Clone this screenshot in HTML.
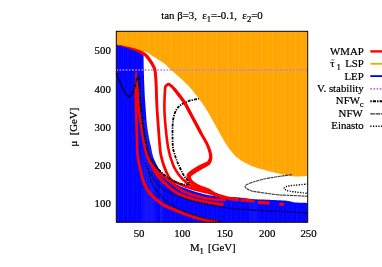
<!DOCTYPE html>
<html><head><meta charset="utf-8"><style>
html,body{margin:0;padding:0;background:#fff;}
body{width:382px;height:267px;overflow:hidden;position:relative;font-family:"Liberation Serif",serif;}
svg{position:absolute;left:0;top:0;}
text{font-family:"Liberation Serif",serif;fill:#000;}
</style></head><body>
<svg width="382" height="267" viewBox="0 0 382 267">
<defs>
<pattern id="pb" width="4.7" height="10" patternUnits="userSpaceOnUse"><rect x="0.6" y="0" width="0.7" height="10" fill="#fff" fill-opacity="0.10"/><rect x="2.9" y="0" width="0.5" height="10" fill="#fff" fill-opacity="0.06"/></pattern>
<pattern id="po" width="11.3" height="10" patternUnits="userSpaceOnUse"><rect x="1" y="0" width="1.6" height="10" fill="#fff" fill-opacity="0.09"/><rect x="6.2" y="0" width="0.9" height="10" fill="#fff" fill-opacity="0.07"/><rect x="8.6" y="0" width="1.2" height="10" fill="#fff" fill-opacity="0.05"/></pattern>
<clipPath id="cb"><path d="M116.30,222.30 L116.30,45.00 C117.02,44.85 118.80,45.18 120.60,45.60 C122.40,46.02 124.92,46.60 127.10,47.20 C129.28,47.80 131.52,48.43 133.70,49.20 C135.88,49.97 138.57,51.08 140.20,51.80 C141.83,52.52 142.95,53.22 143.50,53.50 C143.63,56.25 143.65,63.92 143.80,70.00 C143.95,76.08 144.23,84.17 144.50,90.00 C144.77,95.83 144.98,99.17 145.40,105.00 C145.82,110.83 146.33,119.17 147.00,125.00 C147.67,130.83 148.73,136.33 149.40,140.00 C150.07,143.67 150.47,144.50 151.00,147.00 C151.53,149.50 151.93,152.62 152.60,155.00 C153.27,157.38 154.02,159.13 155.00,161.30 C155.98,163.47 157.18,165.90 158.50,168.00 C159.82,170.10 161.07,171.93 162.90,173.90 C164.73,175.87 167.15,177.98 169.50,179.80 C171.85,181.62 173.82,183.17 177.00,184.80 C180.18,186.43 184.10,188.03 188.60,189.60 C193.10,191.17 198.77,193.05 204.00,194.20 C209.23,195.35 214.72,195.98 220.00,196.50 C225.28,197.02 230.45,196.88 235.70,197.30 C240.95,197.72 246.28,198.60 251.50,199.00 C256.72,199.40 261.17,199.42 267.00,199.70 C272.83,199.98 281.67,200.22 286.50,200.70 C291.33,201.18 292.47,202.22 296.00,202.60 C299.53,202.98 305.75,202.93 307.70,203.00 L307.70,222.30 Z"/></clipPath>
<clipPath id="c"><rect x="116.3" y="31.3" width="191.39999999999998" height="191.0"/></clipPath></defs>
<rect x="0" y="0" width="382" height="267" fill="#fff"/>
<g clip-path="url(#c)">
<path d="M116.30,31.30 L116.30,45.00 L116.30,45.00 C117.02,44.85 118.80,45.18 120.60,45.60 C122.40,46.02 124.92,46.60 127.10,47.20 C129.28,47.80 131.52,48.43 133.70,49.20 C135.88,49.97 138.57,51.08 140.20,51.80 C141.83,52.52 142.95,53.22 143.50,53.50 C143.83,51.97 143.85,51.07 145.50,51.80 C147.15,52.53 151.15,55.03 153.40,56.40 C155.65,57.77 157.07,58.73 159.00,60.00 C160.93,61.27 163.17,62.50 165.00,64.00 C166.83,65.50 168.03,67.17 170.00,69.00 C171.97,70.83 173.70,72.17 176.80,75.00 C179.90,77.83 184.92,82.07 188.60,86.00 C192.28,89.93 195.75,94.40 198.90,98.60 C202.05,102.80 205.15,107.47 207.50,111.20 C209.85,114.93 211.25,117.87 213.00,121.00 C214.75,124.13 216.33,127.00 218.00,130.00 C219.67,133.00 221.33,136.17 223.00,139.00 C224.67,141.83 226.17,144.42 228.00,147.00 C229.83,149.58 231.83,152.25 234.00,154.50 C236.17,156.75 238.33,158.70 241.00,160.50 C243.67,162.30 246.83,163.92 250.00,165.30 C253.17,166.68 256.33,167.68 260.00,168.80 C263.67,169.92 267.58,170.93 272.00,172.00 C276.42,173.07 282.25,174.45 286.50,175.20 C290.75,175.95 293.97,176.40 297.50,176.50 C301.03,176.60 306.00,175.92 307.70,175.80 L307.70,31.30 Z" fill="#ffa500"/>
<path d="M116.30,31.30 L116.30,45.00 L116.30,45.00 C117.02,44.85 118.80,45.18 120.60,45.60 C122.40,46.02 124.92,46.60 127.10,47.20 C129.28,47.80 131.52,48.43 133.70,49.20 C135.88,49.97 138.57,51.08 140.20,51.80 C141.83,52.52 142.95,53.22 143.50,53.50 C143.83,51.97 143.85,51.07 145.50,51.80 C147.15,52.53 151.15,55.03 153.40,56.40 C155.65,57.77 157.07,58.73 159.00,60.00 C160.93,61.27 163.17,62.50 165.00,64.00 C166.83,65.50 168.03,67.17 170.00,69.00 C171.97,70.83 173.70,72.17 176.80,75.00 C179.90,77.83 184.92,82.07 188.60,86.00 C192.28,89.93 195.75,94.40 198.90,98.60 C202.05,102.80 205.15,107.47 207.50,111.20 C209.85,114.93 211.25,117.87 213.00,121.00 C214.75,124.13 216.33,127.00 218.00,130.00 C219.67,133.00 221.33,136.17 223.00,139.00 C224.67,141.83 226.17,144.42 228.00,147.00 C229.83,149.58 231.83,152.25 234.00,154.50 C236.17,156.75 238.33,158.70 241.00,160.50 C243.67,162.30 246.83,163.92 250.00,165.30 C253.17,166.68 256.33,167.68 260.00,168.80 C263.67,169.92 267.58,170.93 272.00,172.00 C276.42,173.07 282.25,174.45 286.50,175.20 C290.75,175.95 293.97,176.40 297.50,176.50 C301.03,176.60 306.00,175.92 307.70,175.80 L307.70,31.30 Z" fill="url(#po)"/>
<path d="M116.30,222.30 L116.30,45.00 C117.02,44.85 118.80,45.18 120.60,45.60 C122.40,46.02 124.92,46.60 127.10,47.20 C129.28,47.80 131.52,48.43 133.70,49.20 C135.88,49.97 138.57,51.08 140.20,51.80 C141.83,52.52 142.95,53.22 143.50,53.50 C143.63,56.25 143.65,63.92 143.80,70.00 C143.95,76.08 144.23,84.17 144.50,90.00 C144.77,95.83 144.98,99.17 145.40,105.00 C145.82,110.83 146.33,119.17 147.00,125.00 C147.67,130.83 148.73,136.33 149.40,140.00 C150.07,143.67 150.47,144.50 151.00,147.00 C151.53,149.50 151.93,152.62 152.60,155.00 C153.27,157.38 154.02,159.13 155.00,161.30 C155.98,163.47 157.18,165.90 158.50,168.00 C159.82,170.10 161.07,171.93 162.90,173.90 C164.73,175.87 167.15,177.98 169.50,179.80 C171.85,181.62 173.82,183.17 177.00,184.80 C180.18,186.43 184.10,188.03 188.60,189.60 C193.10,191.17 198.77,193.05 204.00,194.20 C209.23,195.35 214.72,195.98 220.00,196.50 C225.28,197.02 230.45,196.88 235.70,197.30 C240.95,197.72 246.28,198.60 251.50,199.00 C256.72,199.40 261.17,199.42 267.00,199.70 C272.83,199.98 281.67,200.22 286.50,200.70 C291.33,201.18 292.47,202.22 296.00,202.60 C299.53,202.98 305.75,202.93 307.70,203.00 L307.70,222.30 Z" fill="#0000ff"/>
<path d="M116.30,222.30 L116.30,45.00 C117.02,44.85 118.80,45.18 120.60,45.60 C122.40,46.02 124.92,46.60 127.10,47.20 C129.28,47.80 131.52,48.43 133.70,49.20 C135.88,49.97 138.57,51.08 140.20,51.80 C141.83,52.52 142.95,53.22 143.50,53.50 C143.63,56.25 143.65,63.92 143.80,70.00 C143.95,76.08 144.23,84.17 144.50,90.00 C144.77,95.83 144.98,99.17 145.40,105.00 C145.82,110.83 146.33,119.17 147.00,125.00 C147.67,130.83 148.73,136.33 149.40,140.00 C150.07,143.67 150.47,144.50 151.00,147.00 C151.53,149.50 151.93,152.62 152.60,155.00 C153.27,157.38 154.02,159.13 155.00,161.30 C155.98,163.47 157.18,165.90 158.50,168.00 C159.82,170.10 161.07,171.93 162.90,173.90 C164.73,175.87 167.15,177.98 169.50,179.80 C171.85,181.62 173.82,183.17 177.00,184.80 C180.18,186.43 184.10,188.03 188.60,189.60 C193.10,191.17 198.77,193.05 204.00,194.20 C209.23,195.35 214.72,195.98 220.00,196.50 C225.28,197.02 230.45,196.88 235.70,197.30 C240.95,197.72 246.28,198.60 251.50,199.00 C256.72,199.40 261.17,199.42 267.00,199.70 C272.83,199.98 281.67,200.22 286.50,200.70 C291.33,201.18 292.47,202.22 296.00,202.60 C299.53,202.98 305.75,202.93 307.70,203.00 L307.70,222.30 Z" fill="url(#pb)"/>
<g clip-path="url(#cb)"><rect x="142.5" y="120" width="12.5" height="110" fill="#fff" fill-opacity="0.06"/><rect x="160" y="150" width="3.5" height="80" fill="#fff" fill-opacity="0.05"/><rect x="249" y="190" width="9" height="40" fill="#fff" fill-opacity="0.04"/></g>
<path d="M292.00,174.60 C290.00,174.88 283.55,175.77 280.00,176.30 C276.45,176.83 273.37,177.35 270.70,177.80 C268.03,178.25 266.62,178.38 264.00,179.00 C261.38,179.62 257.08,180.90 255.00,181.50 C252.92,182.10 252.83,182.10 251.50,182.60 C250.17,183.10 248.08,183.85 247.00,184.50 C245.92,185.15 245.00,185.78 245.00,186.50 C245.00,187.22 245.92,188.05 247.00,188.80 C248.08,189.55 250.17,190.53 251.50,191.00 C252.83,191.47 252.42,191.20 255.00,191.60 C257.58,192.00 262.83,192.83 267.00,193.40 C271.17,193.97 276.75,194.70 280.00,195.00 C283.25,195.30 281.88,194.98 286.50,195.20 C291.12,195.42 304.17,196.12 307.70,196.30" fill="none" stroke="#404040" stroke-width="1.15" stroke-dasharray="3.2,0.5"/>
<path d="M307.70,184.00 C304.68,184.30 293.22,185.33 289.60,185.80 C285.98,186.27 286.93,186.37 286.00,186.80 C285.07,187.23 284.00,187.87 284.00,188.40 C284.00,188.93 285.07,189.53 286.00,190.00 C286.93,190.47 285.98,190.63 289.60,191.20 C293.22,191.77 304.68,193.03 307.70,193.40" fill="none" stroke="#000" stroke-width="1.35" stroke-dasharray="1.2,1.4"/>
<line x1="116.3" y1="70" x2="307.7" y2="70" stroke="#c07fe8" stroke-width="1.7" stroke-dasharray="1.7,1.45"/>
<path d="M135.80,70.00 L135.69,70.98 L135.58,72.22 L135.46,73.70 L135.33,75.36 L135.20,77.15 L135.08,79.05 L134.95,80.99 L134.82,82.95 L134.70,84.87 L134.59,86.71 L134.49,88.44 L134.40,90.00 L134.39,91.37 L134.39,92.57 L134.39,93.66 L134.40,94.66 L134.42,95.63 L134.44,96.61 L134.46,97.63 L134.49,98.75 L134.53,100.01 L134.57,101.44 L134.61,103.11 L134.65,105.04 L134.72,107.32 L134.80,109.94 L134.88,112.85 L134.97,115.96 L135.07,119.22 L135.16,122.54 L135.26,125.86 L135.36,129.11 L135.45,132.23 L135.54,135.13 L135.63,137.76 L135.70,140.04 L135.76,141.99 L135.80,143.70 L135.83,145.21 L135.86,146.56 L135.88,147.76 L135.90,148.87 L135.93,149.91 L135.97,150.90 L136.02,151.90 L136.09,152.92 L136.19,153.99 L136.31,155.15 L136.45,156.35 L136.60,157.53 L136.77,158.69 L136.96,159.84 L137.16,160.98 L137.38,162.11 L137.60,163.23 L137.84,164.35 L138.08,165.48 L138.33,166.61 L138.58,167.75 L138.83,168.91 L139.09,170.08 L139.34,171.29 L139.60,172.51 L139.86,173.75 L140.13,175.01 L140.41,176.26 L140.72,177.52 L141.04,178.77 L141.38,180.00 L141.76,181.22 L142.17,182.41 L142.61,183.57 L143.08,184.68 L143.56,185.76 L144.07,186.83 L144.59,187.87 L145.14,188.90 L145.72,189.91 L146.32,190.90 L146.95,191.88 L147.61,192.84 L148.31,193.79 L149.03,194.72 L149.79,195.65 L150.62,196.57 L151.50,197.49 L152.44,198.40 L153.41,199.29 L154.41,200.16 L155.42,201.01 L156.43,201.83 L157.43,202.61 L158.40,203.36 L159.35,204.06 L160.24,204.71 L161.08,205.31 L161.88,205.86 L162.64,206.34 L163.36,206.76 L164.05,207.14 L164.71,207.47 L165.36,207.78 L166.00,208.06 L166.63,208.32 L167.27,208.59 L167.93,208.86 L168.62,209.14 L169.36,209.47 L170.14,209.81 L170.94,210.16 L171.74,210.50 L172.56,210.84 L173.40,211.19 L174.26,211.54 L175.15,211.90 L176.07,212.26 L177.03,212.63 L178.02,213.01 L179.06,213.40 L180.14,213.80 L181.28,214.22 L182.48,214.67 L183.74,215.14 L185.05,215.62 L186.39,216.11 L187.76,216.61 L189.15,217.10 L190.55,217.58 L191.95,218.06 L193.34,218.51 L194.71,218.94 L196.06,219.34 L197.41,219.72 L198.81,220.08 L200.23,220.44 L201.66,220.78 L203.09,221.10 L204.50,221.41 L205.87,221.71 L207.20,221.98 L208.46,222.24 L209.64,222.47 L210.72,222.68 L211.71,222.87 L212.60,223.04 L213.43,223.17 L214.18,223.27 L214.87,223.36 L215.49,223.42 L216.05,223.46 L216.55,223.50 L217.00,223.52 L217.39,223.54 L217.72,223.55 L218.00,223.57 L218.26,223.59 L218.54,220.41 L218.24,220.38 L217.89,220.36 L217.54,220.34 L217.16,220.32 L216.74,220.30 L216.29,220.27 L215.78,220.23 L215.22,220.18 L214.60,220.10 L213.91,220.00 L213.14,219.88 L212.29,219.73 L211.33,219.54 L210.26,219.33 L209.09,219.10 L207.84,218.85 L206.53,218.58 L205.18,218.29 L203.79,217.98 L202.39,217.66 L200.99,217.33 L199.60,216.98 L198.25,216.63 L196.94,216.26 L195.64,215.88 L194.31,215.46 L192.96,215.02 L191.58,214.56 L190.21,214.08 L188.84,213.59 L187.48,213.10 L186.15,212.62 L184.85,212.14 L183.60,211.67 L182.40,211.22 L181.26,210.80 L180.18,210.40 L179.16,210.01 L178.18,209.64 L177.24,209.28 L176.33,208.92 L175.46,208.57 L174.61,208.23 L173.79,207.89 L172.99,207.55 L172.20,207.22 L171.42,206.88 L170.64,206.53 L169.88,206.20 L169.16,205.90 L168.49,205.63 L167.86,205.37 L167.26,205.12 L166.68,204.86 L166.11,204.59 L165.53,204.31 L164.94,203.98 L164.31,203.61 L163.65,203.19 L162.92,202.69 L162.11,202.11 L161.24,201.48 L160.33,200.80 L159.39,200.08 L158.43,199.33 L157.46,198.54 L156.49,197.73 L155.55,196.91 L154.64,196.07 L153.77,195.23 L152.96,194.39 L152.21,193.55 L151.50,192.72 L150.82,191.87 L150.17,191.00 L149.55,190.12 L148.95,189.23 L148.38,188.32 L147.83,187.39 L147.30,186.44 L146.80,185.47 L146.31,184.48 L145.84,183.46 L145.39,182.43 L144.97,181.38 L144.58,180.28 L144.21,179.15 L143.87,177.99 L143.54,176.80 L143.24,175.59 L142.94,174.36 L142.66,173.14 L142.38,171.91 L142.11,170.69 L141.84,169.48 L141.57,168.29 L141.29,167.13 L141.02,166.00 L140.76,164.88 L140.51,163.77 L140.26,162.67 L140.02,161.57 L139.80,160.47 L139.59,159.37 L139.39,158.27 L139.21,157.15 L139.04,156.01 L138.89,154.85 L138.78,153.74 L138.68,152.71 L138.62,151.74 L138.57,150.78 L138.53,149.82 L138.50,148.81 L138.48,147.71 L138.46,146.51 L138.43,145.16 L138.40,143.64 L138.36,141.92 L138.30,139.96 L138.23,137.68 L138.16,135.05 L138.08,132.15 L137.99,129.04 L137.90,125.78 L137.81,122.46 L137.72,119.14 L137.64,115.89 L137.55,112.78 L137.48,109.87 L137.41,107.24 L137.35,104.96 L137.28,103.02 L137.21,101.36 L137.15,99.91 L137.09,98.66 L137.04,97.54 L136.99,96.52 L136.94,95.55 L136.90,94.60 L136.87,93.61 L136.84,92.54 L136.82,91.36 L136.80,90.00 L136.72,88.45 L136.66,86.74 L136.60,84.90 L136.56,82.98 L136.51,81.03 L136.47,79.08 L136.44,77.18 L136.40,75.38 L136.36,73.72 L136.31,72.24 L136.26,70.99 L136.20,70.00Z" fill="#ff0000"/>
<path d="M135.80,70.02 L135.79,71.00 L135.81,72.26 L135.84,73.75 L135.88,75.41 L135.94,77.22 L136.00,79.12 L136.07,81.07 L136.13,83.03 L136.19,84.95 L136.24,86.80 L136.28,88.52 L136.30,90.08 L136.37,91.48 L136.43,92.79 L136.47,94.03 L136.50,95.23 L136.52,96.39 L136.55,97.54 L136.58,98.70 L136.62,99.88 L136.67,101.09 L136.74,102.36 L136.84,103.71 L136.96,105.13 L137.12,106.66 L137.31,108.26 L137.52,109.93 L137.75,111.66 L137.99,113.41 L138.24,115.18 L138.49,116.95 L138.75,118.71 L139.00,120.42 L139.25,122.09 L139.49,123.68 L139.71,125.19 L139.92,126.61 L140.12,127.98 L140.31,129.29 L140.49,130.56 L140.67,131.80 L140.86,133.01 L141.05,134.21 L141.24,135.40 L141.44,136.59 L141.66,137.79 L141.88,139.01 L142.12,140.25 L142.37,141.52 L142.63,142.82 L142.89,144.13 L143.16,145.45 L143.44,146.77 L143.73,148.09 L144.03,149.39 L144.34,150.67 L144.66,151.92 L144.99,153.14 L145.32,154.31 L145.67,155.44 L146.03,156.51 L146.41,157.54 L146.80,158.53 L147.19,159.48 L147.60,160.39 L148.01,161.27 L148.42,162.13 L148.84,162.96 L149.25,163.78 L149.66,164.58 L150.06,165.38 L150.47,166.18 L150.88,167.00 L151.31,167.81 L151.75,168.63 L152.19,169.43 L152.63,170.23 L153.07,171.01 L153.50,171.76 L153.93,172.50 L154.35,173.20 L154.76,173.88 L155.16,174.51 L155.54,175.11 L155.90,175.66 L156.23,176.16 L156.55,176.62 L156.86,177.04 L157.16,177.43 L157.45,177.80 L157.75,178.16 L158.05,178.52 L158.36,178.87 L158.68,179.23 L159.02,179.61 L159.39,180.01 L159.79,180.45 L160.21,180.89 L160.64,181.34 L161.09,181.79 L161.54,182.25 L162.01,182.72 L162.49,183.18 L162.98,183.65 L163.47,184.11 L163.97,184.58 L164.48,185.05 L164.99,185.51 L165.51,185.98 L166.03,186.45 L166.56,186.92 L167.10,187.41 L167.66,187.89 L168.22,188.38 L168.79,188.86 L169.38,189.35 L169.97,189.83 L170.58,190.30 L171.20,190.77 L171.82,191.22 L172.42,191.64 L172.99,192.06 L173.55,192.46 L174.12,192.87 L174.70,193.28 L175.32,193.69 L175.97,194.09 L176.67,194.50 L177.42,194.92 L178.24,195.33 L179.14,195.76 L180.12,196.18 L181.19,196.62 L182.35,197.07 L183.60,197.53 L184.90,198.00 L186.26,198.47 L187.66,198.94 L189.09,199.40 L190.53,199.85 L191.96,200.28 L193.38,200.70 L194.77,201.09 L196.12,201.45 L197.46,201.79 L198.81,202.11 L200.18,202.40 L201.54,202.69 L202.90,202.95 L204.24,203.20 L205.57,203.44 L206.88,203.66 L208.16,203.88 L209.40,204.09 L210.60,204.29 L211.75,204.48 L212.90,204.67 L214.07,204.85 L215.23,205.02 L216.38,205.18 L217.50,205.33 L218.58,205.48 L219.60,205.61 L220.55,205.73 L221.42,205.83 L222.20,205.93 L222.86,206.01 L223.40,206.09 L223.80,203.11 L223.24,203.04 L222.57,202.95 L221.79,202.86 L220.92,202.75 L219.98,202.63 L218.96,202.50 L217.90,202.36 L216.79,202.21 L215.66,202.05 L214.52,201.88 L213.38,201.71 L212.25,201.52 L211.09,201.33 L209.89,201.13 L208.65,200.92 L207.39,200.71 L206.09,200.48 L204.78,200.25 L203.46,200.00 L202.13,199.74 L200.80,199.47 L199.48,199.18 L198.17,198.87 L196.88,198.55 L195.57,198.20 L194.21,197.81 L192.82,197.41 L191.41,196.98 L190.00,196.54 L188.60,196.09 L187.23,195.63 L185.90,195.17 L184.62,194.71 L183.42,194.27 L182.30,193.83 L181.28,193.42 L180.37,193.02 L179.56,192.64 L178.82,192.26 L178.15,191.90 L177.53,191.53 L176.94,191.16 L176.39,190.80 L175.85,190.42 L175.30,190.03 L174.75,189.63 L174.17,189.21 L173.58,188.78 L172.98,188.35 L172.41,187.92 L171.84,187.48 L171.27,187.02 L170.72,186.56 L170.17,186.10 L169.63,185.63 L169.09,185.16 L168.56,184.69 L168.04,184.22 L167.52,183.75 L167.01,183.29 L166.51,182.83 L166.01,182.38 L165.52,181.93 L165.04,181.47 L164.57,181.02 L164.11,180.57 L163.66,180.13 L163.22,179.69 L162.80,179.25 L162.39,178.82 L161.99,178.40 L161.61,177.99 L161.24,177.59 L160.91,177.22 L160.60,176.88 L160.32,176.55 L160.05,176.24 L159.79,175.92 L159.53,175.60 L159.27,175.25 L159.00,174.88 L158.71,174.46 L158.40,174.00 L158.06,173.49 L157.70,172.92 L157.32,172.30 L156.92,171.65 L156.51,170.97 L156.10,170.26 L155.67,169.52 L155.24,168.76 L154.81,167.99 L154.39,167.20 L153.96,166.41 L153.55,165.61 L153.13,164.82 L152.71,164.01 L152.29,163.22 L151.87,162.42 L151.45,161.62 L151.03,160.82 L150.62,160.01 L150.21,159.17 L149.82,158.32 L149.43,157.43 L149.05,156.52 L148.68,155.56 L148.33,154.56 L147.99,153.50 L147.65,152.38 L147.32,151.21 L146.99,150.00 L146.67,148.75 L146.37,147.48 L146.06,146.19 L145.77,144.89 L145.48,143.58 L145.21,142.29 L144.94,141.00 L144.68,139.75 L144.44,138.52 L144.21,137.33 L144.00,136.14 L143.80,134.97 L143.61,133.80 L143.43,132.61 L143.25,131.41 L143.06,130.18 L142.88,128.91 L142.69,127.60 L142.49,126.24 L142.29,124.81 L142.07,123.30 L141.84,121.71 L141.60,120.04 L141.35,118.33 L141.11,116.58 L140.86,114.82 L140.62,113.05 L140.39,111.31 L140.18,109.60 L139.98,107.94 L139.80,106.36 L139.64,104.87 L139.50,103.48 L139.39,102.17 L139.29,100.94 L139.22,99.75 L139.15,98.60 L139.10,97.46 L139.05,96.31 L139.00,95.14 L138.94,93.94 L138.88,92.67 L138.80,91.34 L138.70,89.92 L138.51,88.37 L138.30,86.65 L138.09,84.81 L137.86,82.90 L137.63,80.95 L137.40,79.01 L137.17,77.12 L136.95,75.33 L136.73,73.68 L136.54,72.21 L136.36,70.96 L136.20,69.98Z" fill="#ff0000"/>
<path d="M149.28,160.63 L149.39,160.89 L149.52,161.21 L149.68,161.58 L149.87,162.00 L150.07,162.45 L150.30,162.94 L150.54,163.44 L150.79,163.95 L151.06,164.46 L151.33,164.97 L151.61,165.47 L151.89,165.94 L152.18,166.39 L152.48,166.84 L152.79,167.29 L153.11,167.74 L153.44,168.19 L153.78,168.64 L154.12,169.09 L154.47,169.54 L154.83,169.99 L155.19,170.43 L155.56,170.88 L155.93,171.33 L156.33,171.76 L156.74,172.20 L157.17,172.64 L157.60,173.09 L158.04,173.54 L158.49,173.99 L158.93,174.43 L159.38,174.87 L159.83,175.30 L160.28,175.71 L160.73,176.11 L161.17,176.50 L161.62,176.86 L162.06,177.20 L162.50,177.51 L162.93,177.81 L163.35,178.09 L163.76,178.35 L164.17,178.62 L164.58,178.88 L164.98,179.15 L165.38,179.42 L165.79,179.71 L166.21,180.03 L166.64,180.37 L167.08,180.73 L167.52,181.10 L167.98,181.49 L168.44,181.88 L168.91,182.29 L169.39,182.70 L169.87,183.12 L170.37,183.54 L170.86,183.97 L171.37,184.39 L171.88,184.81 L172.38,185.22 L172.88,185.63 L173.39,186.06 L173.91,186.49 L174.44,186.93 L174.97,187.37 L175.52,187.81 L176.07,188.24 L176.64,188.67 L177.21,189.09 L177.80,189.50 L178.40,189.89 L178.99,190.26 L179.57,190.62 L180.15,190.97 L180.74,191.30 L181.34,191.63 L181.95,191.95 L182.57,192.26 L183.21,192.57 L183.87,192.88 L184.55,193.19 L185.27,193.50 L186.01,193.80 L186.79,194.12 L187.61,194.43 L188.46,194.74 L189.34,195.06 L190.24,195.37 L191.15,195.67 L192.07,195.97 L193.00,196.27 L193.92,196.55 L194.84,196.83 L195.75,197.10 L196.65,197.35 L197.54,197.60 L198.45,197.84 L199.36,198.07 L200.27,198.29 L201.18,198.51 L202.09,198.72 L202.99,198.92 L203.88,199.11 L204.76,199.29 L205.61,199.46 L206.45,199.63 L207.26,199.78 L208.05,199.92 L208.80,200.05 L209.52,200.17 L210.23,200.28 L210.93,200.38 L211.61,200.48 L212.30,200.56 L212.99,200.64 L213.69,200.71 L214.41,200.78 L215.14,200.84 L215.91,200.90 L216.75,200.95 L217.65,200.99 L218.59,201.02 L219.57,201.04 L220.55,201.06 L221.52,201.07 L222.46,201.08 L223.35,201.08 L224.16,201.09 L224.89,201.09 L225.50,201.09 L225.98,201.10 L226.02,198.50 L225.53,198.49 L224.90,198.49 L224.17,198.49 L223.36,198.48 L222.48,198.48 L221.54,198.47 L220.59,198.46 L219.62,198.44 L218.67,198.42 L217.75,198.39 L216.88,198.35 L216.09,198.30 L215.35,198.25 L214.63,198.19 L213.94,198.12 L213.27,198.06 L212.61,197.98 L211.95,197.90 L211.29,197.81 L210.62,197.71 L209.94,197.60 L209.23,197.49 L208.50,197.36 L207.74,197.22 L206.94,197.07 L206.12,196.91 L205.28,196.74 L204.42,196.57 L203.54,196.38 L202.66,196.18 L201.77,195.98 L200.88,195.77 L199.99,195.55 L199.10,195.32 L198.22,195.09 L197.35,194.85 L196.48,194.60 L195.58,194.34 L194.68,194.07 L193.77,193.79 L192.87,193.50 L191.96,193.20 L191.07,192.90 L190.20,192.60 L189.35,192.30 L188.53,192.00 L187.74,191.69 L186.99,191.40 L186.28,191.10 L185.60,190.81 L184.95,190.52 L184.33,190.23 L183.72,189.93 L183.14,189.64 L182.57,189.34 L182.01,189.03 L181.46,188.72 L180.91,188.39 L180.36,188.05 L179.80,187.71 L179.26,187.35 L178.72,186.97 L178.19,186.59 L177.66,186.19 L177.14,185.77 L176.61,185.35 L176.09,184.93 L175.58,184.50 L175.06,184.07 L174.55,183.64 L174.03,183.21 L173.52,182.79 L173.03,182.39 L172.54,181.98 L172.05,181.57 L171.57,181.15 L171.09,180.74 L170.61,180.32 L170.14,179.91 L169.67,179.51 L169.20,179.11 L168.73,178.72 L168.26,178.34 L167.79,177.97 L167.33,177.62 L166.87,177.29 L166.43,176.99 L166.00,176.71 L165.58,176.43 L165.17,176.17 L164.77,175.91 L164.38,175.65 L163.99,175.39 L163.61,175.11 L163.22,174.82 L162.83,174.50 L162.41,174.16 L161.99,173.79 L161.55,173.41 L161.11,173.02 L160.67,172.61 L160.23,172.20 L159.79,171.78 L159.35,171.35 L158.91,170.93 L158.49,170.50 L158.07,170.08 L157.67,169.67 L157.25,169.29 L156.84,168.90 L156.43,168.51 L156.03,168.13 L155.64,167.74 L155.25,167.36 L154.87,166.98 L154.50,166.59 L154.13,166.21 L153.78,165.82 L153.44,165.44 L153.11,165.06 L152.78,164.67 L152.45,164.25 L152.12,163.80 L151.79,163.35 L151.47,162.89 L151.17,162.44 L150.87,162.00 L150.59,161.59 L150.34,161.22 L150.10,160.88 L149.89,160.60 L149.72,160.37Z" fill="#ff0000"/>
<path d="M145.50,162.90 C145.85,163.85 146.90,166.58 147.60,168.60 C148.30,170.62 149.00,172.60 149.70,175.00 C150.40,177.40 150.55,180.27 151.80,183.00 C153.05,185.73 155.00,188.57 157.20,191.40 C159.40,194.23 162.53,197.73 165.00,200.00 C167.47,202.27 169.38,203.33 172.00,205.00 C174.62,206.67 176.62,208.17 180.70,210.00 C184.78,211.83 191.28,214.33 196.50,216.00 C201.72,217.67 207.75,219.00 212.00,220.00 C216.25,221.00 220.33,221.67 222.00,222.00" fill="none" stroke="#000" stroke-width="1.4" stroke-dasharray="1.4,1.3"/>
<path d="M150.50,172.00 C150.83,172.83 151.63,175.33 152.50,177.00 C153.37,178.67 153.87,180.00 155.70,182.00 C157.53,184.00 161.12,187.17 163.50,189.00 C165.88,190.83 167.13,191.62 170.00,193.00 C172.87,194.38 176.28,195.80 180.70,197.30 C185.12,198.80 191.28,200.72 196.50,202.00 C201.72,203.28 208.08,204.20 212.00,205.00 C215.92,205.80 216.05,206.17 220.00,206.80 C223.95,207.43 230.45,208.27 235.70,208.80 C240.95,209.33 246.28,209.65 251.50,210.00 C256.72,210.35 262.25,210.65 267.00,210.90 C271.75,211.15 273.22,211.18 280.00,211.50 C286.78,211.82 303.08,212.58 307.70,212.80" fill="none" stroke="#000" stroke-width="1.4" stroke-dasharray="1.4,1.3"/>
<path d="M116.56,45.00 L116.75,45.04 L116.96,45.10 L117.22,45.16 L117.50,45.22 L117.81,45.29 L118.14,45.37 L118.50,45.45 L118.87,45.54 L119.27,45.63 L119.67,45.73 L120.09,45.83 L120.52,45.94 L120.97,46.07 L121.45,46.21 L121.95,46.35 L122.47,46.50 L123.02,46.65 L123.57,46.81 L124.13,46.97 L124.70,47.14 L125.27,47.31 L125.83,47.48 L126.39,47.65 L126.93,47.83 L127.46,48.01 L128.00,48.19 L128.54,48.38 L129.08,48.57 L129.62,48.76 L130.16,48.95 L130.69,49.15 L131.23,49.35 L131.76,49.55 L132.30,49.76 L132.83,49.97 L133.35,50.19 L133.89,50.42 L134.42,50.65 L134.96,50.89 L135.50,51.12 L136.03,51.37 L136.57,51.61 L137.09,51.86 L137.61,52.11 L138.11,52.37 L138.60,52.62 L139.08,52.88 L139.54,53.15 L140.02,53.40 L140.48,53.64 L140.94,53.89 L141.38,54.13 L141.81,54.38 L142.22,54.63 L142.62,54.88 L143.01,55.14 L143.39,55.41 L143.75,55.68 L144.09,55.96 L144.42,56.25 L144.75,56.54 L145.06,56.85 L145.37,57.18 L145.68,57.52 L145.98,57.88 L146.28,58.25 L146.58,58.63 L146.87,59.02 L147.17,59.43 L147.46,59.84 L147.76,60.25 L148.06,60.67 L148.36,61.07 L148.66,61.48 L148.95,61.88 L149.23,62.29 L149.51,62.70 L149.79,63.11 L150.05,63.52 L150.31,63.93 L150.57,64.35 L150.81,64.77 L151.05,65.19 L151.28,65.63 L151.51,66.08 L151.75,66.52 L151.97,66.93 L152.17,67.33 L152.37,67.72 L152.55,68.11 L152.72,68.51 L152.89,68.94 L153.05,69.40 L153.20,69.90 L153.34,70.47 L153.48,71.09 L153.60,71.79 L153.72,72.55 L153.83,73.36 L153.92,74.23 L154.01,75.13 L154.09,76.07 L154.17,77.04 L154.24,78.04 L154.31,79.04 L154.37,80.06 L154.44,81.08 L154.50,82.09 L154.57,83.10 L154.62,84.13 L154.67,85.19 L154.72,86.26 L154.77,87.34 L154.81,88.44 L154.85,89.54 L154.89,90.65 L154.92,91.75 L154.96,92.86 L155.01,93.96 L155.05,95.05 L155.09,96.12 L155.13,97.17 L155.17,98.20 L155.21,99.23 L155.24,100.26 L155.28,101.30 L155.32,102.35 L155.37,103.43 L155.41,104.53 L155.47,105.67 L155.53,106.85 L155.60,108.08 L155.68,109.37 L155.76,110.72 L155.86,112.11 L155.96,113.54 L156.06,115.00 L156.17,116.48 L156.28,117.96 L156.39,119.44 L156.49,120.90 L156.60,122.34 L156.71,123.74 L156.80,125.10 L156.90,126.44 L157.00,127.80 L157.10,129.16 L157.19,130.51 L157.29,131.85 L157.38,133.16 L157.48,134.45 L157.57,135.70 L157.66,136.89 L157.74,138.03 L157.83,139.11 L157.90,140.11 L157.98,141.02 L158.04,141.86 L158.10,142.63 L158.16,143.34 L158.21,144.00 L158.27,144.62 L158.32,145.22 L158.37,145.80 L158.43,146.37 L158.48,146.94 L158.54,147.53 L158.61,148.14 L158.67,148.74 L158.72,149.32 L158.77,149.87 L158.82,150.42 L158.87,150.96 L158.93,151.51 L158.99,152.07 L159.06,152.66 L159.15,153.26 L159.26,153.90 L159.38,154.58 L159.53,155.29 L159.70,156.05 L159.89,156.85 L160.09,157.69 L160.31,158.56 L160.54,159.45 L160.78,160.36 L161.03,161.27 L161.29,162.18 L161.56,163.08 L161.83,163.96 L162.10,164.82 L162.37,165.65 L162.65,166.46 L162.94,167.27 L163.24,168.08 L163.55,168.88 L163.86,169.67 L164.18,170.44 L164.50,171.20 L164.82,171.94 L165.13,172.65 L165.44,173.33 L165.74,173.99 L166.04,174.61 L166.32,175.19 L166.60,175.74 L166.86,176.28 L167.13,176.79 L167.40,177.28 L167.67,177.75 L167.94,178.20 L168.22,178.64 L168.51,179.06 L168.82,179.47 L169.13,179.86 L169.47,180.25 L169.82,180.61 L170.18,180.94 L170.54,181.25 L170.91,181.52 L171.28,181.77 L171.65,181.99 L172.01,182.20 L172.38,182.40 L172.74,182.58 L173.11,182.77 L173.48,182.95 L173.87,183.15 L174.29,183.36 L174.74,183.57 L175.20,183.78 L175.66,183.98 L176.13,184.17 L176.60,184.36 L177.08,184.55 L177.56,184.74 L178.04,184.93 L178.52,185.12 L179.00,185.31 L179.47,185.50 L179.95,185.69 L180.44,185.89 L180.93,186.10 L181.43,186.30 L181.93,186.51 L182.44,186.72 L182.95,186.92 L183.46,187.13 L183.98,187.33 L184.49,187.53 L185.01,187.72 L185.52,187.91 L186.02,188.10 L186.50,188.27 L186.98,188.44 L187.46,188.61 L187.94,188.78 L188.43,188.95 L188.92,189.11 L189.42,189.27 L189.94,189.44 L190.47,189.60 L191.03,189.77 L191.61,189.94 L192.21,190.12 L192.82,190.29 L193.44,190.46 L194.08,190.63 L194.73,190.81 L195.40,190.98 L196.08,191.15 L196.77,191.33 L197.47,191.51 L198.19,191.69 L198.92,191.87 L199.66,192.06 L200.44,192.25 L201.26,192.44 L202.10,192.63 L202.95,192.83 L203.82,193.02 L204.69,193.22 L205.56,193.41 L206.42,193.61 L207.26,193.82 L208.08,194.02 L208.86,194.23 L209.60,194.44 L210.34,194.67 L211.10,194.92 L211.87,195.18 L212.63,195.45 L213.39,195.73 L214.13,196.01 L214.83,196.28 L215.49,196.53 L216.10,196.77 L216.65,196.98 L217.12,197.17 L217.51,197.31 L218.49,194.69 L218.12,194.55 L217.66,194.37 L217.12,194.16 L216.51,193.92 L215.84,193.67 L215.12,193.39 L214.37,193.11 L213.59,192.82 L212.79,192.54 L211.99,192.26 L211.18,192.00 L210.40,191.76 L209.60,191.53 L208.78,191.31 L207.93,191.10 L207.06,190.89 L206.19,190.69 L205.31,190.48 L204.43,190.29 L203.57,190.09 L202.72,189.90 L201.89,189.71 L201.10,189.53 L200.34,189.34 L199.60,189.16 L198.87,188.97 L198.15,188.79 L197.46,188.62 L196.77,188.44 L196.10,188.27 L195.45,188.10 L194.81,187.93 L194.18,187.76 L193.57,187.59 L192.97,187.42 L192.39,187.26 L191.83,187.09 L191.30,186.93 L190.78,186.77 L190.28,186.61 L189.80,186.45 L189.32,186.29 L188.85,186.13 L188.39,185.97 L187.92,185.81 L187.45,185.64 L186.97,185.46 L186.48,185.29 L185.99,185.10 L185.50,184.92 L185.00,184.72 L184.50,184.52 L184.00,184.32 L183.50,184.12 L182.99,183.92 L182.50,183.71 L182.00,183.51 L181.50,183.30 L181.01,183.10 L180.53,182.90 L180.04,182.71 L179.55,182.51 L179.07,182.32 L178.58,182.13 L178.11,181.95 L177.65,181.76 L177.19,181.58 L176.75,181.40 L176.32,181.21 L175.91,181.03 L175.51,180.84 L175.13,180.65 L174.74,180.45 L174.36,180.26 L174.01,180.09 L173.67,179.91 L173.36,179.75 L173.07,179.58 L172.79,179.41 L172.53,179.24 L172.27,179.05 L172.03,178.84 L171.78,178.61 L171.53,178.35 L171.28,178.07 L171.03,177.76 L170.79,177.43 L170.55,177.09 L170.32,176.72 L170.08,176.33 L169.84,175.91 L169.60,175.47 L169.35,174.99 L169.10,174.49 L168.84,173.96 L168.56,173.39 L168.28,172.80 L167.99,172.17 L167.69,171.51 L167.38,170.82 L167.08,170.11 L166.77,169.37 L166.46,168.62 L166.16,167.86 L165.86,167.09 L165.57,166.31 L165.29,165.53 L165.03,164.75 L164.76,163.96 L164.50,163.13 L164.24,162.27 L163.98,161.39 L163.73,160.51 L163.48,159.62 L163.25,158.74 L163.02,157.87 L162.81,157.02 L162.61,156.21 L162.43,155.43 L162.27,154.71 L162.13,154.04 L162.02,153.42 L161.92,152.83 L161.84,152.28 L161.77,151.74 L161.71,151.21 L161.66,150.69 L161.61,150.16 L161.56,149.62 L161.51,149.06 L161.46,148.47 L161.39,147.86 L161.33,147.25 L161.27,146.67 L161.21,146.10 L161.16,145.54 L161.11,144.97 L161.06,144.38 L161.01,143.76 L160.95,143.11 L160.89,142.40 L160.83,141.64 L160.77,140.81 L160.70,139.89 L160.62,138.89 L160.54,137.82 L160.45,136.68 L160.36,135.49 L160.27,134.25 L160.18,132.96 L160.08,131.65 L159.99,130.31 L159.89,128.95 L159.79,127.60 L159.69,126.24 L159.60,124.90 L159.50,123.54 L159.39,122.13 L159.29,120.69 L159.18,119.23 L159.07,117.75 L158.96,116.27 L158.85,114.80 L158.75,113.35 L158.65,111.92 L158.56,110.53 L158.47,109.20 L158.40,107.92 L158.34,106.70 L158.28,105.54 L158.24,104.41 L158.20,103.32 L158.16,102.25 L158.13,101.20 L158.10,100.17 L158.07,99.14 L158.05,98.11 L158.02,97.07 L157.98,96.02 L157.95,94.95 L157.91,93.86 L157.88,92.76 L157.85,91.66 L157.82,90.55 L157.79,89.45 L157.76,88.34 L157.72,87.24 L157.69,86.14 L157.65,85.06 L157.60,83.99 L157.55,82.94 L157.50,81.91 L157.44,80.90 L157.38,79.88 L157.33,78.86 L157.27,77.84 L157.20,76.83 L157.13,75.84 L157.06,74.87 L156.97,73.92 L156.88,73.01 L156.78,72.13 L156.66,71.30 L156.52,70.51 L156.37,69.77 L156.21,69.10 L156.03,68.47 L155.84,67.89 L155.64,67.35 L155.44,66.84 L155.22,66.37 L155.01,65.91 L154.79,65.47 L154.57,65.04 L154.35,64.62 L154.12,64.17 L153.88,63.69 L153.62,63.20 L153.35,62.73 L153.08,62.26 L152.80,61.80 L152.51,61.34 L152.22,60.89 L151.93,60.45 L151.63,60.01 L151.34,59.58 L151.04,59.15 L150.74,58.73 L150.44,58.32 L150.14,57.90 L149.83,57.48 L149.52,57.06 L149.20,56.63 L148.87,56.20 L148.53,55.78 L148.17,55.36 L147.80,54.94 L147.41,54.53 L147.00,54.13 L146.58,53.75 L146.13,53.40 L145.68,53.07 L145.22,52.75 L144.75,52.46 L144.28,52.18 L143.80,51.91 L143.32,51.65 L142.84,51.40 L142.35,51.16 L141.86,50.92 L141.36,50.69 L140.86,50.45 L140.32,50.24 L139.77,50.03 L139.21,49.82 L138.65,49.62 L138.07,49.43 L137.50,49.24 L136.92,49.05 L136.34,48.88 L135.76,48.70 L135.18,48.53 L134.61,48.37 L134.05,48.21 L133.48,48.05 L132.91,47.89 L132.34,47.74 L131.78,47.60 L131.21,47.46 L130.64,47.32 L130.08,47.19 L129.51,47.06 L128.95,46.94 L128.39,46.81 L127.83,46.69 L127.27,46.57 L126.71,46.45 L126.13,46.32 L125.55,46.20 L124.97,46.07 L124.38,45.95 L123.81,45.84 L123.24,45.73 L122.68,45.62 L122.14,45.52 L121.63,45.43 L121.14,45.34 L120.68,45.26 L120.24,45.17 L119.81,45.09 L119.39,45.02 L118.99,44.95 L118.61,44.89 L118.25,44.83 L117.91,44.78 L117.59,44.73 L117.30,44.69 L117.05,44.66 L116.83,44.63 L116.64,44.60Z" fill="#ff0000"/>
<path d="M235.33,197.93 L234.84,197.84 L234.22,197.72 L233.51,197.59 L232.71,197.44 L231.85,197.28 L230.94,197.10 L229.99,196.91 L229.03,196.71 L228.08,196.51 L227.14,196.29 L226.25,196.08 L225.41,195.86 L224.57,195.62 L223.71,195.37 L222.83,195.10 L221.94,194.82 L221.05,194.54 L220.16,194.24 L219.30,193.95 L218.46,193.65 L217.66,193.35 L216.91,193.07 L216.21,192.79 L215.58,192.52 L215.04,192.27 L214.56,192.02 L214.14,191.76 L213.75,191.51 L213.38,191.25 L213.03,190.99 L212.68,190.73 L212.32,190.46 L211.95,190.18 L211.55,189.90 L211.12,189.63 L210.67,189.37 L210.21,189.13 L209.77,188.92 L209.33,188.71 L208.89,188.52 L208.45,188.34 L208.02,188.16 L207.59,187.99 L207.17,187.83 L206.75,187.67 L206.33,187.51 L205.92,187.35 L205.50,187.19 L205.07,187.03 L204.64,186.87 L204.21,186.72 L203.78,186.57 L203.36,186.43 L202.95,186.29 L202.54,186.15 L202.13,186.01 L201.73,185.87 L201.33,185.72 L200.93,185.57 L200.54,185.41 L200.13,185.22 L199.72,185.03 L199.31,184.83 L198.90,184.63 L198.49,184.42 L198.08,184.22 L197.68,184.01 L197.29,183.80 L196.90,183.58 L196.53,183.36 L196.16,183.14 L195.81,182.92 L195.45,182.68 L195.09,182.44 L194.74,182.19 L194.41,181.95 L194.08,181.71 L193.77,181.47 L193.47,181.23 L193.20,180.99 L192.94,180.75 L192.71,180.51 L192.51,180.28 L192.33,180.04 L192.14,179.78 L191.95,179.50 L191.77,179.21 L191.60,178.91 L191.45,178.61 L191.31,178.31 L191.19,178.03 L191.10,177.76 L191.03,177.51 L191.00,177.30 L190.98,177.13 L190.99,176.96 L190.98,176.71 L190.98,176.48 L190.99,176.33 L191.01,176.27 L191.02,176.29 L191.02,176.34 L191.02,176.38 L191.05,176.36 L191.13,176.28 L191.29,176.12 L191.54,175.90 L191.86,175.62 L192.29,175.28 L192.85,174.88 L193.53,174.41 L194.30,173.91 L195.13,173.38 L196.01,172.84 L196.89,172.30 L197.78,171.77 L198.64,171.26 L199.46,170.78 L200.21,170.34 L200.87,169.95 L201.42,169.61 L201.92,169.31 L202.39,169.04 L202.83,168.80 L203.25,168.58 L203.66,168.36 L204.07,168.15 L204.47,167.94 L204.88,167.73 L205.30,167.50 L205.72,167.25 L206.13,167.01 L206.46,166.79 L206.78,166.60 L207.12,166.41 L207.48,166.21 L207.86,165.99 L208.26,165.75 L208.68,165.48 L209.11,165.17 L209.54,164.81 L209.95,164.38 L210.34,163.90 L210.67,163.40 L210.93,162.93 L211.17,162.46 L211.40,161.96 L211.63,161.42 L211.85,160.85 L212.03,160.24 L212.19,159.59 L212.32,158.91 L212.40,158.20 L212.43,157.45 L212.42,156.67 L212.34,155.86 L212.24,155.03 L212.09,154.16 L211.89,153.25 L211.67,152.32 L211.40,151.35 L211.11,150.37 L210.79,149.37 L210.44,148.37 L210.08,147.37 L209.69,146.37 L209.29,145.38 L208.88,144.41 L208.47,143.48 L208.05,142.60 L207.62,141.76 L207.17,140.95 L206.71,140.14 L206.23,139.32 L205.72,138.47 L205.17,137.55 L204.59,136.56 L203.95,135.47 L203.27,134.25 L202.52,132.88 L201.67,131.30 L200.69,129.49 L199.63,127.49 L198.49,125.36 L197.32,123.15 L196.12,120.90 L194.93,118.65 L193.76,116.47 L192.66,114.40 L191.63,112.48 L190.71,110.76 L189.92,109.29 L189.28,108.09 L188.76,107.10 L188.34,106.29 L188.00,105.61 L187.71,105.04 L187.44,104.52 L187.18,104.03 L186.90,103.54 L186.59,103.01 L186.22,102.43 L185.78,101.76 L185.24,100.95 L184.58,100.01 L183.84,98.98 L183.04,97.87 L182.18,96.72 L181.29,95.53 L180.38,94.34 L179.47,93.16 L178.58,92.02 L177.73,90.93 L176.93,89.93 L176.20,89.02 L175.55,88.24 L174.98,87.56 L174.45,86.97 L173.97,86.44 L173.52,85.98 L173.11,85.58 L172.72,85.23 L172.36,84.92 L172.03,84.65 L171.72,84.41 L171.43,84.19 L171.16,83.99 L170.89,83.79 L170.61,83.60 L170.34,83.42 L170.07,83.26 L169.80,83.12 L169.51,83.00 L169.21,82.91 L168.89,82.85 L168.58,82.84 L168.30,82.86 L168.05,82.90 L167.84,82.94 L167.63,83.00 L167.39,83.07 L167.12,83.17 L166.86,83.29 L166.60,83.43 L166.34,83.59 L166.09,83.77 L165.84,83.97 L165.60,84.20 L165.37,84.45 L165.15,84.72 L164.95,85.02 L164.80,85.28 L164.75,85.38 L164.78,85.35 L164.77,85.37 L164.62,85.51 L164.38,85.80 L164.17,86.17 L164.04,86.57 L163.95,87.00 L163.88,87.51 L163.82,88.14 L163.76,88.93 L163.70,89.92 L163.63,91.11 L163.56,92.48 L163.47,94.03 L163.39,95.72 L163.31,97.53 L163.23,99.46 L163.17,101.46 L163.13,103.53 L163.10,105.65 L163.10,107.79 L163.14,109.93 L163.20,112.05 L163.30,114.24 L163.44,116.57 L163.62,119.00 L163.81,121.51 L164.03,124.06 L164.26,126.62 L164.51,129.15 L164.76,131.62 L165.01,133.98 L165.25,136.22 L165.49,138.29 L165.71,140.16 L165.93,141.85 L166.15,143.41 L166.37,144.86 L166.59,146.19 L166.82,147.42 L167.04,148.57 L167.27,149.64 L167.49,150.65 L167.71,151.61 L167.92,152.53 L168.13,153.42 L168.33,154.30 L168.53,155.14 L168.73,155.90 L168.91,156.60 L169.10,157.23 L169.28,157.82 L169.46,158.36 L169.64,158.88 L169.82,159.38 L170.00,159.87 L170.19,160.37 L170.38,160.89 L170.57,161.43 L170.77,162.00 L170.96,162.56 L171.15,163.13 L171.34,163.69 L171.54,164.27 L171.75,164.84 L171.97,165.43 L172.20,166.03 L172.45,166.63 L172.73,167.24 L173.02,167.87 L173.35,168.51 L173.71,169.16 L174.09,169.83 L174.50,170.52 L174.92,171.21 L175.37,171.91 L175.82,172.61 L176.28,173.31 L176.75,173.99 L177.22,174.66 L177.68,175.30 L178.13,175.91 L178.57,176.49 L179.00,177.05 L179.43,177.57 L179.86,178.08 L180.29,178.57 L180.72,179.03 L181.14,179.49 L181.57,179.92 L182.00,180.35 L182.43,180.77 L182.86,181.17 L183.29,181.57 L183.74,181.97 L184.18,182.37 L184.64,182.77 L185.10,183.15 L185.57,183.53 L186.04,183.90 L186.51,184.26 L186.98,184.61 L187.46,184.94 L187.93,185.27 L188.39,185.58 L188.85,185.88 L189.31,186.16 L189.77,186.43 L190.23,186.68 L190.68,186.91 L191.12,187.13 L191.56,187.33 L192.00,187.52 L192.43,187.70 L192.85,187.87 L193.27,188.03 L193.68,188.19 L194.09,188.35 L194.51,188.51 L194.94,188.67 L195.37,188.82 L195.80,188.97 L196.23,189.12 L196.66,189.25 L197.09,189.39 L197.51,189.52 L197.93,189.64 L198.35,189.77 L198.77,189.89 L199.18,190.02 L199.60,190.14 L200.03,190.27 L200.45,190.39 L200.88,190.51 L201.30,190.62 L201.72,190.73 L202.14,190.85 L202.55,190.96 L202.96,191.07 L203.37,191.18 L203.78,191.30 L204.18,191.42 L204.59,191.54 L205.01,191.67 L205.43,191.79 L205.84,191.92 L206.26,192.05 L206.66,192.17 L207.07,192.30 L207.47,192.43 L207.87,192.57 L208.27,192.71 L208.66,192.86 L209.05,193.02 L209.43,193.18 L209.78,193.34 L210.10,193.51 L210.42,193.70 L210.74,193.89 L211.08,194.11 L211.44,194.34 L211.84,194.59 L212.27,194.84 L212.74,195.10 L213.27,195.37 L213.85,195.64 L214.49,195.90 L215.21,196.18 L216.04,196.47 L216.94,196.77 L217.91,197.08 L218.90,197.40 L219.90,197.71 L220.88,198.01 L221.82,198.29 L222.68,198.55 L223.45,198.79 L224.09,198.98 L224.58,199.14 L225.42,196.46 L224.91,196.31 L224.26,196.11 L223.49,195.87 L222.63,195.61 L221.70,195.33 L220.73,195.03 L219.74,194.72 L218.76,194.41 L217.82,194.11 L216.95,193.82 L216.17,193.54 L215.51,193.30 L214.97,193.07 L214.49,192.85 L214.05,192.63 L213.66,192.41 L213.29,192.19 L212.93,191.97 L212.58,191.75 L212.22,191.52 L211.85,191.29 L211.45,191.06 L211.03,190.84 L210.57,190.62 L210.12,190.43 L209.67,190.25 L209.23,190.08 L208.80,189.93 L208.36,189.78 L207.93,189.64 L207.50,189.50 L207.08,189.37 L206.66,189.24 L206.24,189.11 L205.83,188.99 L205.41,188.86 L204.98,188.73 L204.55,188.61 L204.13,188.49 L203.70,188.37 L203.28,188.25 L202.86,188.14 L202.45,188.03 L202.03,187.92 L201.62,187.81 L201.21,187.69 L200.81,187.58 L200.40,187.46 L199.98,187.33 L199.57,187.21 L199.15,187.09 L198.74,186.96 L198.32,186.84 L197.91,186.71 L197.51,186.59 L197.10,186.45 L196.70,186.32 L196.30,186.18 L195.90,186.04 L195.49,185.89 L195.08,185.74 L194.66,185.59 L194.25,185.44 L193.85,185.29 L193.45,185.14 L193.05,184.98 L192.66,184.82 L192.27,184.65 L191.88,184.47 L191.49,184.27 L191.09,184.07 L190.69,183.84 L190.27,183.59 L189.85,183.33 L189.41,183.05 L188.97,182.75 L188.53,182.45 L188.09,182.13 L187.64,181.80 L187.20,181.46 L186.76,181.11 L186.32,180.76 L185.89,180.40 L185.46,180.03 L185.05,179.65 L184.63,179.27 L184.22,178.88 L183.82,178.49 L183.42,178.10 L183.02,177.69 L182.62,177.27 L182.23,176.83 L181.83,176.38 L181.43,175.91 L181.03,175.42 L180.63,174.91 L180.21,174.36 L179.78,173.77 L179.34,173.15 L178.89,172.51 L178.44,171.85 L177.99,171.19 L177.55,170.51 L177.13,169.84 L176.72,169.17 L176.34,168.52 L175.98,167.89 L175.65,167.29 L175.35,166.72 L175.09,166.15 L174.84,165.60 L174.61,165.05 L174.39,164.50 L174.19,163.96 L173.99,163.41 L173.80,162.85 L173.62,162.30 L173.42,161.73 L173.23,161.15 L173.03,160.57 L172.82,160.00 L172.63,159.47 L172.44,158.97 L172.27,158.49 L172.09,158.01 L171.92,157.53 L171.76,157.02 L171.59,156.48 L171.42,155.89 L171.24,155.24 L171.06,154.52 L170.87,153.70 L170.66,152.83 L170.45,151.94 L170.24,151.03 L170.03,150.09 L169.81,149.10 L169.59,148.05 L169.37,146.94 L169.15,145.74 L168.94,144.44 L168.72,143.03 L168.50,141.51 L168.29,139.84 L168.07,137.99 L167.83,135.93 L167.59,133.70 L167.34,131.35 L167.09,128.89 L166.85,126.38 L166.62,123.84 L166.40,121.30 L166.21,118.81 L166.04,116.40 L165.90,114.10 L165.80,111.95 L165.73,109.87 L165.70,107.77 L165.70,105.66 L165.73,103.58 L165.77,101.53 L165.83,99.54 L165.90,97.64 L165.98,95.84 L166.07,94.16 L166.15,92.63 L166.23,91.26 L166.30,90.08 L166.37,89.12 L166.44,88.39 L166.51,87.85 L166.57,87.49 L166.62,87.30 L166.64,87.28 L166.59,87.37 L166.53,87.47 L166.57,87.45 L166.76,87.29 L167.01,87.01 L167.20,86.72 L167.31,86.53 L167.40,86.42 L167.49,86.31 L167.59,86.22 L167.69,86.13 L167.79,86.06 L167.89,85.99 L167.99,85.93 L168.09,85.89 L168.19,85.85 L168.28,85.82 L168.37,85.80 L168.48,85.78 L168.56,85.77 L168.59,85.77 L168.57,85.77 L168.53,85.77 L168.49,85.77 L168.48,85.77 L168.51,85.79 L168.59,85.83 L168.72,85.92 L168.89,86.04 L169.11,86.21 L169.38,86.40 L169.64,86.60 L169.90,86.79 L170.16,87.00 L170.44,87.22 L170.73,87.47 L171.05,87.76 L171.40,88.10 L171.79,88.51 L172.22,88.98 L172.71,89.53 L173.25,90.16 L173.87,90.92 L174.59,91.80 L175.38,92.79 L176.22,93.87 L177.10,95.00 L178.00,96.16 L178.90,97.34 L179.78,98.51 L180.62,99.65 L181.41,100.74 L182.13,101.74 L182.76,102.65 L183.29,103.42 L183.70,104.06 L184.04,104.58 L184.31,105.04 L184.55,105.47 L184.78,105.91 L185.03,106.39 L185.32,106.97 L185.67,107.65 L186.10,108.49 L186.63,109.49 L187.28,110.71 L188.07,112.18 L188.99,113.89 L190.01,115.81 L191.12,117.88 L192.28,120.06 L193.47,122.30 L194.67,124.56 L195.85,126.77 L196.98,128.90 L198.05,130.90 L199.02,132.72 L199.88,134.32 L200.64,135.71 L201.35,136.95 L202.00,138.07 L202.59,139.08 L203.14,140.00 L203.65,140.85 L204.12,141.65 L204.55,142.41 L204.97,143.17 L205.36,143.93 L205.74,144.73 L206.12,145.59 L206.49,146.51 L206.84,147.46 L207.19,148.41 L207.51,149.37 L207.81,150.33 L208.09,151.27 L208.34,152.19 L208.56,153.08 L208.74,153.93 L208.89,154.73 L208.99,155.47 L209.06,156.14 L209.06,156.73 L209.02,157.28 L208.95,157.78 L208.85,158.25 L208.72,158.69 L208.57,159.10 L208.39,159.49 L208.20,159.86 L208.00,160.22 L207.78,160.56 L207.55,160.90 L207.33,161.20 L207.16,161.40 L207.01,161.53 L206.85,161.65 L206.67,161.76 L206.45,161.87 L206.20,161.98 L205.90,162.11 L205.57,162.24 L205.19,162.40 L204.77,162.57 L204.32,162.78 L203.87,162.99 L203.50,163.19 L203.16,163.35 L202.80,163.51 L202.43,163.67 L202.03,163.84 L201.60,164.03 L201.14,164.23 L200.65,164.45 L200.12,164.70 L199.56,164.98 L198.96,165.30 L198.33,165.65 L197.66,166.06 L196.91,166.51 L196.09,167.02 L195.22,167.55 L194.32,168.11 L193.41,168.69 L192.50,169.26 L191.63,169.84 L190.80,170.40 L190.03,170.95 L189.34,171.48 L188.74,171.98 L188.25,172.45 L187.82,172.90 L187.45,173.36 L187.13,173.84 L186.85,174.36 L186.65,174.90 L186.53,175.44 L186.48,175.95 L186.49,176.39 L186.52,176.77 L186.57,177.09 L186.61,177.44 L186.70,177.91 L186.84,178.41 L187.02,178.89 L187.22,179.36 L187.44,179.80 L187.69,180.24 L187.95,180.66 L188.23,181.07 L188.53,181.46 L188.83,181.84 L189.15,182.20 L189.47,182.56 L189.83,182.90 L190.20,183.23 L190.58,183.53 L190.97,183.82 L191.37,184.09 L191.77,184.34 L192.17,184.59 L192.58,184.82 L192.98,185.04 L193.39,185.26 L193.79,185.47 L194.19,185.68 L194.61,185.90 L195.04,186.12 L195.47,186.33 L195.91,186.54 L196.36,186.74 L196.81,186.93 L197.25,187.12 L197.70,187.31 L198.15,187.48 L198.59,187.66 L199.03,187.83 L199.46,187.99 L199.90,188.17 L200.34,188.34 L200.77,188.50 L201.20,188.65 L201.63,188.80 L202.05,188.94 L202.47,189.09 L202.88,189.23 L203.29,189.37 L203.69,189.51 L204.09,189.65 L204.50,189.81 L204.91,189.97 L205.34,190.13 L205.75,190.29 L206.16,190.44 L206.57,190.60 L206.98,190.76 L207.38,190.93 L207.78,191.09 L208.17,191.27 L208.57,191.45 L208.96,191.64 L209.33,191.83 L209.68,192.03 L210.00,192.23 L210.32,192.45 L210.64,192.69 L210.98,192.95 L211.35,193.23 L211.74,193.53 L212.18,193.83 L212.66,194.14 L213.19,194.46 L213.78,194.77 L214.42,195.08 L215.11,195.38 L215.85,195.70 L216.64,196.01 L217.46,196.34 L218.32,196.66 L219.21,196.98 L220.11,197.30 L221.02,197.61 L221.94,197.92 L222.84,198.21 L223.73,198.48 L224.59,198.74 L225.48,198.99 L226.42,199.24 L227.39,199.48 L228.37,199.71 L229.35,199.93 L230.31,200.14 L231.23,200.33 L232.10,200.51 L232.90,200.68 L233.60,200.83 L234.20,200.96 L234.67,201.07Z" fill="#ff0000"/>
<path d="M116.30,73.00 C116.92,74.50 118.72,79.00 120.00,82.00 C121.28,85.00 122.50,88.58 124.00,91.00 C125.50,93.42 127.50,96.33 129.00,96.50 C130.50,96.67 131.83,94.42 133.00,92.00 C134.17,89.58 135.17,84.62 136.00,82.00 C136.83,79.38 137.42,75.80 138.00,76.30 C138.58,76.80 139.05,80.22 139.50,85.00 C139.95,89.78 140.12,98.33 140.70,105.00 C141.28,111.67 142.22,119.17 143.00,125.00 C143.78,130.83 144.37,135.00 145.40,140.00 C146.43,145.00 147.43,150.58 149.20,155.00 C150.97,159.42 153.65,163.33 156.00,166.50 C158.35,169.67 161.03,171.98 163.30,174.00 C165.57,176.02 168.08,177.53 169.60,178.60 C171.12,179.67 170.88,179.63 172.40,180.40 C173.92,181.17 176.60,182.50 178.70,183.20 C180.80,183.90 183.33,184.42 185.00,184.60 C186.67,184.78 188.20,184.90 188.70,184.30 C189.20,183.70 188.75,182.38 188.00,181.00 C187.25,179.62 185.90,179.00 184.20,176.00 C182.50,173.00 179.60,167.33 177.80,163.00 C176.00,158.67 174.27,153.83 173.40,150.00 C172.53,146.17 172.73,144.05 172.60,140.00 C172.47,135.95 172.42,129.53 172.60,125.70 C172.78,121.87 173.08,119.62 173.70,117.00 C174.32,114.38 175.13,112.00 176.30,110.00 C177.47,108.00 178.65,106.50 180.70,105.00 C182.75,103.50 185.55,102.07 188.60,101.00 C191.65,99.93 197.27,99.00 199.00,98.60" fill="none" stroke="#000" stroke-width="1.8" stroke-dasharray="3,1.1,1.2,1.1"/>
<path d="M202.52,132.89 L201.89,131.71 L201.06,130.15 L200.07,128.29 L198.96,126.21 L197.76,123.95 L196.51,121.61 L195.24,119.23 L194.00,116.89 L192.81,114.66 L191.70,112.61 L190.73,110.79 L189.92,109.29 L189.28,108.09 L188.76,107.10 L188.34,106.29 L188.00,105.61 L187.71,105.04 L187.44,104.52 L187.18,104.03 L186.90,103.54 L186.59,103.01 L186.22,102.43 L185.78,101.76 L185.24,100.95 L184.57,99.99 L183.79,98.92 L182.93,97.76 L182.01,96.55 L181.06,95.31 L180.10,94.07 L179.16,92.86 L178.26,91.71 L177.42,90.64 L176.68,89.70 L176.07,88.90 L175.59,88.28 L173.21,90.12 L173.69,90.74 L174.32,91.55 L175.06,92.49 L175.89,93.55 L176.79,94.70 L177.73,95.91 L178.68,97.14 L179.62,98.37 L180.53,99.56 L181.37,100.70 L182.12,101.74 L182.76,102.65 L183.29,103.42 L183.70,104.06 L184.04,104.58 L184.31,105.04 L184.55,105.47 L184.78,105.91 L185.03,106.39 L185.32,106.97 L185.67,107.65 L186.10,108.49 L186.63,109.49 L187.28,110.71 L188.09,112.21 L189.06,114.02 L190.16,116.08 L191.35,118.31 L192.60,120.64 L193.86,123.02 L195.11,125.37 L196.31,127.62 L197.42,129.70 L198.41,131.56 L199.24,133.12 L199.88,134.31Z" fill="#ff0000"/>
<line x1="228.7" y1="198.3" x2="239" y2="199.6" stroke="#ff0000" stroke-width="3.2"/>
<line x1="240.5" y1="199.8" x2="254" y2="201" stroke="#ff0000" stroke-width="3.2"/>
<line x1="258" y1="202.4" x2="269.6" y2="203.2" stroke="#ff0000" stroke-width="3.2"/>
<line x1="279.4" y1="204" x2="283.8" y2="204.3" stroke="#ff0000" stroke-width="3.2"/>
</g>
<rect x="116.3" y="31.3" width="191.39999999999998" height="191.0" fill="none" stroke="#000" stroke-width="1"/>
<g style="filter:grayscale(1)" stroke="#000" stroke-width="0.22">
<text x="110.8" y="54.3" font-size="10.8" text-anchor="end">500</text>
<text x="110.8" y="92.5" font-size="10.8" text-anchor="end">400</text>
<text x="110.8" y="130.7" font-size="10.8" text-anchor="end">300</text>
<text x="110.8" y="168.9" font-size="10.8" text-anchor="end">200</text>
<text x="110.8" y="207.1" font-size="10.8" text-anchor="end">100</text>
<text x="139.1" y="237" font-size="10.8" text-anchor="middle">50</text>
<text x="182.3" y="237" font-size="10.8" text-anchor="middle">100</text>
<text x="224.9" y="237" font-size="10.8" text-anchor="middle">150</text>
<text x="267.2" y="237" font-size="10.8" text-anchor="middle">200</text>
<text x="308.5" y="237" font-size="10.8" text-anchor="middle">250</text>
<text x="212" y="18.7" font-size="10.8" text-anchor="middle" xml:space="preserve">tan β=3,  ε<tspan dy="2.8" font-size="8.6">1</tspan><tspan dy="-2.8">=-0.1,  ε</tspan><tspan dy="2.8" font-size="8.6">2</tspan><tspan dy="-2.8">=0</tspan></text>
<text x="190" y="251" font-size="10.8" xml:space="preserve">M<tspan dy="2.8" font-size="8.6">1</tspan><tspan dx="-1.2" dy="-2.8">  [GeV]</tspan></text>
<text transform="translate(76.5,146.5) rotate(-90)" font-size="10.8" xml:space="preserve">μ  [GeV]</text>
<text x="363.7" y="54.8" font-size="10.8" text-anchor="end">WMAP</text>
<text x="363.8" y="67.2" font-size="10.8" text-anchor="end" xml:space="preserve">τ<tspan dx="1.8" dy="3" font-size="8.6">1</tspan><tspan dx="-0.9" dy="-3">  LSP</tspan></text>
<path d="M331.2,60.2 q0.8,-0.9 1.6,-0.3 q0.8,0.6 1.6,-0.3" fill="none" stroke="#000" stroke-width="0.6"/>
<text x="363.7" y="79.6" font-size="10.8" text-anchor="end">LEP</text>
<text x="363.7" y="92.0" font-size="10.8" text-anchor="end">V. stability</text>
<text x="363.7" y="104.3" font-size="10.8" text-anchor="end">NFW<tspan dy="2.8" font-size="8.6">c</tspan></text>
<text x="362.6" y="116.7" font-size="10.8" text-anchor="end">NFW</text>
<text x="363.7" y="129.0" font-size="10.8" text-anchor="end">Einasto</text>
</g>
<line x1="370.3" y1="51.4" x2="383" y2="51.4" stroke="#ff0000" stroke-width="2.4"/>
<line x1="370.3" y1="63.8" x2="383" y2="63.8" stroke="#ffa500" stroke-width="1.8"/>
<line x1="370.3" y1="76.1" x2="383" y2="76.1" stroke="#0000ff" stroke-width="1.8"/>
<line x1="370.3" y1="88.9" x2="383" y2="88.9" stroke="#b877f5" stroke-width="1.7" stroke-dasharray="1.7,1.45"/>
<line x1="370.3" y1="101.3" x2="383" y2="101.3" stroke="#000" stroke-width="2" stroke-dasharray="1.4,1.1,3.2,1.1"/>
<line x1="370.3" y1="113.9" x2="383" y2="113.9" stroke="#333" stroke-width="1.2" stroke-dasharray="4.5,0.7"/>
<line x1="370.3" y1="126.2" x2="383" y2="126.2" stroke="#000" stroke-width="1.4" stroke-dasharray="1.2,1.5"/>
</svg>
</body></html>
